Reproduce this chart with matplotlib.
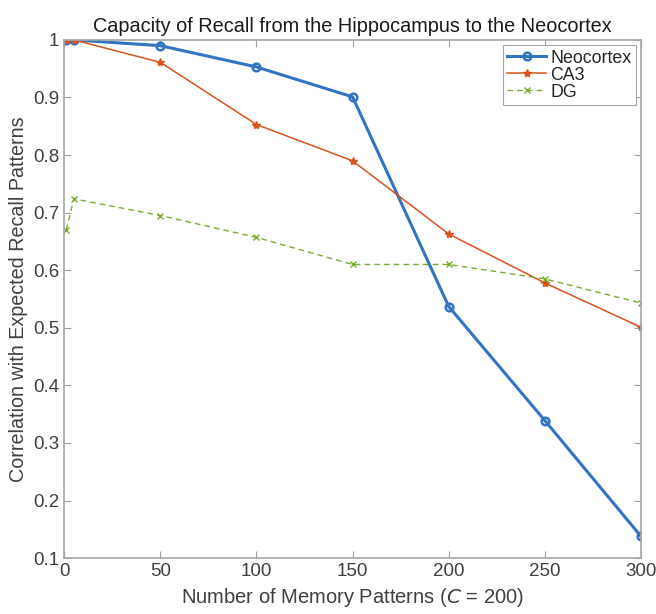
import matplotlib.pyplot as plt

plt.rcParams['font.family'] = ['Liberation Sans', 'DejaVu Sans']

# number of memory patterns
patterns = [1, 5, 50, 100, 150, 200, 250, 300]
neocortex = [1.0, 1.0, 0.99, 0.953, 0.901, 0.537, 0.339, 0.138]
ca3 = [1.0, 1.0, 0.961, 0.853, 0.790, 0.663, 0.578, 0.501]
dg = [0.670, 0.724, 0.695, 0.657, 0.610, 0.610, 0.585, 0.543]

xticks = [0, 50, 100, 150, 200, 250, 300]
yticks = [0.1, 0.2, 0.3, 0.4, 0.5, 0.6, 0.7, 0.8, 0.9, 1]

fig = plt.figure(figsize=(6.56, 6.14), dpi=100)
ax = fig.add_axes([0.098, 0.091, 0.879, 0.844])

ax.plot(patterns, neocortex, '-o', color='#3274c2', lw=2.2, ms=5.5,
        mfc='none', mew=1.8, label='Neocortex')
ax.plot(patterns, ca3, '-*', color='#d9531e', lw=1.1, ms=6,
        mew=1.0, label='CA3')
ax.plot(patterns, dg, '--x', color='#77ac30', lw=1.0, ms=5,
        mew=1.0, label='DG', dashes=(4, 3))

ax.set_xlim(0, 300)
ax.set_ylim(0.1, 1)
ax.set_xticks(xticks)
ax.set_yticks(yticks)
ax.set_yticklabels(['0.1', '0.2', '0.3', '0.4', '0.5', '0.6', '0.7', '0.8', '0.9', '1'])
ax.tick_params(direction='in', length=5, width=0.8, colors='#a0a0a0',
               labelsize=13.5, top=True, right=True, labelcolor='#404040')
for s in ax.spines.values():
    s.set_color('#a6a6a6')
    s.set_linewidth(1.2)

ax.set_title('Capacity of Recall from the Hippocampus to the Neocortex',
             fontsize=14.3, color='#1a1a1a', pad=6)
ax.set_xlabel('Number of Memory Patterns ($\\mathit{C}$ = 200)', fontsize=14.5, color='#404040')
ax.set_ylabel('Correlation with Expected Recall Patterns', fontsize=14.2, color='#404040')

leg = ax.legend(loc='upper right', fontsize=12.8, fancybox=False, framealpha=1,
                edgecolor='#a6a6a6', borderpad=0.25, labelspacing=0.0,
                handlelength=2.2, handletextpad=0.2, borderaxespad=0.3)
leg.get_frame().set_linewidth(0.8)
for t in leg.get_texts():
    t.set_color('#262626')

fig.savefig('out.png', dpi=100)
